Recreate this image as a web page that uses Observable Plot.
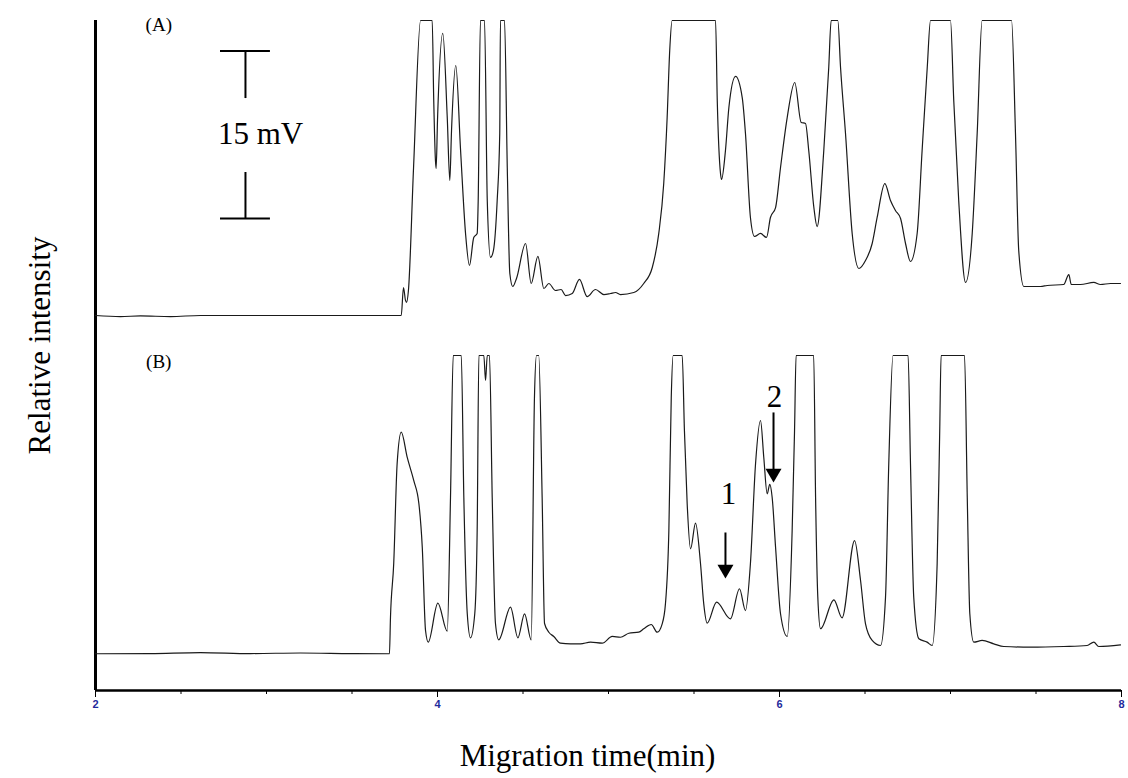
<!DOCTYPE html>
<html><head><meta charset="utf-8">
<script src="https://cdn.jsdelivr.net/npm/d3@7"></script>
<script src="https://cdn.jsdelivr.net/npm/@observablehq/plot@0.6"></script>
<style>
html,body{margin:0;padding:0;background:#fff;}
#chart svg{display:block;}
#chart svg text{font-family:'Liberation Serif','Times New Roman',serif;}
#chart svg .ticklab text{font-family:'Liberation Sans',Arial,sans-serif;font-weight:bold;}
</style></head><body><div id="chart"></div>
<script>
// Trace (A): migration time (min) and signal (mV, offset trace)
const timeA = [2.000,2.146,2.263,2.439,2.614,2.906,3.199,3.491,3.667,3.788,
3.801,3.813,3.819,3.830,3.860,3.901,3.969,3.978,3.988,3.992,
4.000,4.031,4.057,4.072,4.082,4.107,4.135,4.164,4.187,4.212,
4.232,4.238,4.251,4.275,4.291,4.310,4.327,4.349,4.364,4.368,
4.392,4.408,4.423,4.440,4.462,4.515,4.548,4.587,4.622,4.651,
4.690,4.723,4.749,4.788,4.830,4.875,4.924,4.973,5.012,5.041,
5.070,5.148,5.206,5.256,5.294,5.323,5.343,5.358,5.372,5.626,
5.636,5.655,5.661,5.684,5.704,5.743,5.782,5.801,5.830,5.854,
5.889,5.924,5.947,5.977,6.006,6.045,6.089,6.127,6.152,6.171,
6.201,6.220,6.259,6.288,6.302,6.341,6.357,6.386,6.425,6.464,
6.503,6.542,6.571,6.616,6.649,6.678,6.708,6.737,6.766,6.805,
6.834,6.864,6.883,7.000,7.019,7.048,7.088,7.127,7.156,7.185,
7.357,7.380,7.399,7.429,7.526,7.565,7.662,7.692,7.706,7.760,
7.838,7.877,7.936,7.994];
const intensityA = [33.58,33.49,33.54,33.49,33.58,33.58,33.58,33.58,33.58,33.58,
36.09,34.93,34.75,35.82,46.84,60,60,52.84,47.46,46.75,
51.04,58.84,51.31,45.67,50.15,55.97,48.36,40.93,38.06,40.57,
40.93,43.88,60,60,43.88,38.78,39.40,43.88,49.88,60,
60,46.84,37.34,36.18,36.90,40.03,36.45,38.87,36.00,36.45,
35.82,35.91,35.37,35.55,36.81,35.28,35.91,35.46,35.55,35.64,
35.46,35.64,36.45,37.88,40.93,45.40,51.31,57.31,60,60,
52.84,46.30,45.76,48.36,52.21,54.99,53.10,49.88,42.36,40.66,
40.93,40.57,42.36,43.25,46.84,51.31,54.45,50.87,50.78,48.36,
43.25,41.55,48.36,55.79,60,60,55.79,49.88,40.93,37.79,
38.51,40.03,42.36,45.40,43.88,42.99,42.27,40.03,38.42,40.93,
48.36,55.79,60,60,52.84,43.88,36.54,40.93,49.88,60,
60,49.88,39.40,36.18,36.18,36.27,36.36,37.25,36.36,36.36,
36.54,36.36,36.45,36.45];

// Trace (B)
const timeB = [2.000,2.322,2.614,2.906,3.199,3.491,3.719,3.725,3.744,3.764,
3.788,3.823,3.861,3.891,3.911,3.930,3.946,4.002,4.057,4.076,
4.092,4.139,4.154,4.174,4.193,4.218,4.232,4.242,4.271,4.281,
4.291,4.304,4.320,4.339,4.358,4.427,4.470,4.509,4.548,4.567,
4.579,4.592,4.612,4.626,4.651,4.680,4.719,4.778,4.836,4.895,
4.963,5.022,5.070,5.119,5.177,5.206,5.250,5.285,5.314,5.333,
5.353,5.367,5.378,5.431,5.444,5.460,5.480,5.509,5.538,5.557,
5.577,5.632,5.713,5.766,5.801,5.830,5.860,5.889,5.908,5.928,
5.943,5.957,5.977,6.006,6.045,6.074,6.088,6.097,6.200,6.211,
6.224,6.240,6.318,6.366,6.439,6.474,6.503,6.542,6.591,6.620,
6.639,6.664,6.752,6.766,6.785,6.815,6.863,6.893,6.922,6.937,
6.945,7.082,7.098,7.113,7.136,7.185,7.253,7.312,7.468,7.662,
7.799,7.838,7.867,7.994];
const intensityB = [3.29,3.31,3.40,3.31,3.36,3.31,3.29,6.54,11.37,20.33,
23.13,20.87,18.81,16.75,12.81,5.37,4.33,7.82,5.31,17.28,
30,30,17.28,6.90,4.72,6.90,14.33,30,30,27.76,
30,30,17.28,6.00,4.54,7.46,4.72,6.87,4.54,26.24,
30,30,17.28,6.00,5.22,4.84,4.24,4.18,4.18,4.33,
4.24,4.84,4.77,5.13,5.22,5.53,5.91,5.22,5.97,7.76,
14.33,26.24,30,30,23.28,16.75,12.69,14.98,11.37,7.76,
6.03,7.91,6.42,9.11,7.16,11.37,20.33,24.18,20.89,17.61,
18.45,17.31,12.83,6.87,4.84,14.33,23.28,30,30,17.31,
8.36,5.53,8.12,6.51,13.43,9.85,5.97,4.48,4.03,8.36,
20.30,30,30,20.30,8.36,4.63,4.33,4.03,11.37,23.28,
30,30,17.31,6.87,4.33,4.48,4.18,3.94,3.88,3.94,
4.03,4.33,3.94,4.09];

// Annotations
const panelLabels = [
  {label: "(A)", time: 2.37, value: 59.6},
  {label: "(B)", time: 2.37, value: 29.4}
];
const scaleBar = {time: 2.877, bottom: 42.27, span: 15, label: "15 mV", labelTime: 2.965, gapLow: 46.39, gapHigh: 53.01};
const peakArrows = [
  {label: "1", time: 5.684, from: 14.15, to: 10.03, labelTime: 5.702, labelValue: 17.55},
  {label: "2", time: 5.965, from: 24.90, to: 18.63, labelTime: 5.971, labelValue: 26.24}
];
const majorTicks = [2, 4, 6, 8];
const minorTicks = [2, 2.5, 3, 3.5, 4, 4.5, 5, 5.5, 6, 6.5, 7, 7.5, 8];
const xTitle = "Migration time(min)";
const yTitle = "Relative intensity";

const serif = "'Liberation Serif','Times New Roman',serif";
const traceA = timeA.map((t, i) => ({t, v: intensityA[i]}));
const traceB = timeB.map((t, i) => ({t, v: intensityB[i]}));
const barTop = scaleBar.bottom + scaleBar.span;
const barSegments = [
  {x: scaleBar.time, y1: scaleBar.bottom, y2: scaleBar.gapLow},
  {x: scaleBar.time, y1: scaleBar.gapHigh, y2: barTop}
];
const barCaps = [scaleBar.bottom, barTop];
const capHalf = 0.146;

const plot = Plot.plot({
  width: 1128, height: 778,
  marginLeft: 95, marginRight: 7, marginTop: 20, marginBottom: 88,
  x: {domain: [2, 8]},
  y: {domain: [0, 60], axis: null},
  style: {background: "#fff", fontFamily: serif, overflow: "visible", color: "#000"},
  marks: [
    Plot.axisX({ticks: minorTicks, tickSize: 4, tickFormat: () => "", stroke: "#000", label: null}),
    Plot.axisX({ticks: majorTicks, tickSize: 7, tickPadding: 3, tickFormat: d => String(d), stroke: "#000", fill: "#1f2a9c",
      fontWeight: "bold", fontSize: 11, className: "ticklab", label: null}),
    Plot.ruleX([2], {stroke: "#000", strokeWidth: 3}),
    Plot.ruleY([0], {stroke: "#000", strokeWidth: 2.5}),
    Plot.line(traceA, {x: "t", y: "v", stroke: "#1a1a1a", strokeWidth: 1.2, curve: "monotone-x"}),
    Plot.line(traceB, {x: "t", y: "v", stroke: "#1a1a1a", strokeWidth: 1.2, curve: "monotone-x"}),
    Plot.text(panelLabels, {x: "time", y: "value", text: "label", fontSize: 19, fill: "#000"}),
    Plot.ruleX(barSegments, {x: "x", y1: "y1", y2: "y2", stroke: "#000", strokeWidth: 2}),
    Plot.ruleY(barCaps, {y: d => d, x1: scaleBar.time - capHalf, x2: scaleBar.time + capHalf, stroke: "#000", strokeWidth: 2}),
    Plot.text([scaleBar], {x: "labelTime", y: (scaleBar.gapLow + scaleBar.gapHigh) / 2 + 0.1, text: "label", fontSize: 31, fill: "#000"}),
    Plot.link(peakArrows, {x1: "time", x2: "time", y1: "from", y2: d => d.to + 0.6, stroke: "#000", strokeWidth: 2}),
    Plot.dot(peakArrows, {x: "time", y: "to", symbol: "triangle", r: 5.94, rotate: 180, fill: "#000", stroke: "none", dy: -9.2}),
    Plot.text(peakArrows, {x: "labelTime", y: "labelValue", text: "label", fontSize: 31, fill: "#000"}),
    Plot.text([xTitle], {frameAnchor: "bottom", lineAnchor: "middle", dy: 66, dx: -21, fontSize: 31, fill: "#000"}),
    Plot.text([yTitle], {frameAnchor: "left", textAnchor: "middle", lineAnchor: "middle", rotate: -90, dx: -55, dy: -10, fontSize: 31, fill: "#000"})
  ]
});
document.getElementById("chart").appendChild(plot);
</script>
</body></html>
